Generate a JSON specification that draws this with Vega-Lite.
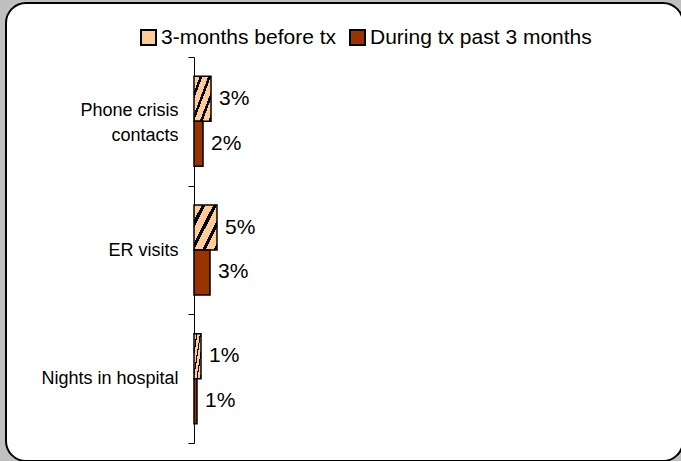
{
  "$schema": "https://vega.github.io/schema/vega-lite/v6.json",
  "width": 677,
  "height": 458,
  "autosize": {"type": "none"},
  "padding": {"left": 6, "top": 3, "right": 0, "bottom": 0},
  "background": "#c0c0c0",
  "config": {
    "view": {"stroke": "black", "strokeWidth": 2, "cornerRadius": 20, "fill": "white"},
    "font": "Liberation Sans"
  },
  "data": {
    "values": [
      {"category": "Phone crisis contacts", "series": "3-months before tx", "value": 0.034},
      {"category": "Phone crisis contacts", "series": "During tx past 3 months", "value": 0.018},
      {"category": "ER visits", "series": "3-months before tx", "value": 0.046},
      {"category": "ER visits", "series": "During tx past 3 months", "value": 0.032},
      {"category": "Nights in hospital", "series": "3-months before tx", "value": 0.014},
      {"category": "Nights in hospital", "series": "During tx past 3 months", "value": 0.006}
    ]
  },
  "encoding": {
    "y": {
      "field": "category",
      "type": "nominal",
      "sort": null,
      "scale": {"range": [54, 440], "paddingInner": 0, "paddingOuter": 0},
      "axis": {
        "title": null,
        "orient": "left",
        "offset": -188,
        "domainColor": "black",
        "domainWidth": 1,
        "tickColor": "black",
        "tickSize": 6,
        "tickBand": "extent",
        "labelFontSize": 18,
        "labelColor": "black",
        "labelPadding": 10,
        "labelAlign": "right",
        "labelLimit": 0,
        "labelLineHeight": 25,
        "labelOffset": {"condition": {"test": "datum.value == 'Phone crisis contacts'", "value": -11}, "value": 0},
        "labelExpr": "datum.label == 'Phone crisis contacts' ? ['Phone crisis', 'contacts\u00a0\u00a0\u00a0'] : datum.label"
      }
    },
    "yOffset": {
      "field": "series",
      "type": "nominal",
      "sort": null,
      "scale": {"paddingInner": 0, "paddingOuter": 0.43}
    },
    "x": {
      "field": "value",
      "type": "quantitative",
      "scale": {"domain": [-0.376, 0.978], "nice": false},
      "axis": null
    }
  },
  "layer": [
    {
      "mark": {"type": "bar", "stroke": "black", "strokeWidth": 1.5},
      "encoding": {
        "x2": {"datum": 0},
        "fill": {
          "field": "series",
          "type": "nominal",
          "sort": null,
          "scale": {"domain": ["3-months before tx", "During tx past 3 months"], "range": ["#FFCC99", "#993300"]},
          "condition": {
            "test": "datum.series == '3-months before tx'",
            "value": {
              "gradient": "linear",
              "x1": 0, "y1": 0, "x2": 1, "y2": 1,
              "stops": [
                {"offset": 0, "color": "#FFCC99"},
                {"offset": 0.17, "color": "#FFCC99"},
                {"offset": 0.17, "color": "#000000"},
                {"offset": 0.25, "color": "#000000"},
                {"offset": 0.25, "color": "#FFCC99"},
                {"offset": 0.42, "color": "#FFCC99"},
                {"offset": 0.42, "color": "#000000"},
                {"offset": 0.5, "color": "#000000"},
                {"offset": 0.5, "color": "#FFCC99"},
                {"offset": 0.67, "color": "#FFCC99"},
                {"offset": 0.67, "color": "#000000"},
                {"offset": 0.75, "color": "#000000"},
                {"offset": 0.75, "color": "#FFCC99"},
                {"offset": 0.92, "color": "#FFCC99"},
                {"offset": 0.92, "color": "#000000"},
                {"offset": 1, "color": "#000000"}
              ]
            }
          },
          "legend": {
            "title": null,
            "orient": "none",
            "legendX": 132,
            "legendY": 24,
            "direction": "horizontal",
            "symbolType": "square",
            "symbolSize": 225,
            "symbolStrokeColor": "black",
            "symbolStrokeWidth": 2,
            "symbolOpacity": 1,
            "labelFontSize": 21,
            "labelColor": "black",
            "labelOffset": 2,
            "columnPadding": 9,
            "labelLimit": 0,
            "encode": {
              "symbols": {
                "update": {
                  "fill": {"signal": "datum.value == '3-months before tx' ? {gradient: 'linear', x1: 0, y1: 0, x2: 1, y2: 1, stops: [{offset: 0, color: '#FFCC99'}, {offset: 0.3, color: '#FFCC99'}, {offset: 0.3, color: '#000000'}, {offset: 0.45, color: '#000000'}, {offset: 0.45, color: '#FFCC99'}, {offset: 0.7, color: '#FFCC99'}, {offset: 0.7, color: '#000000'}, {offset: 0.85, color: '#000000'}, {offset: 0.85, color: '#FFCC99'}, {offset: 1, color: '#FFCC99'}]} : '#993300'"},
                  "stroke": {"value": "black"},
                  "opacity": {"value": 1}
                }
              }
            }
          }
        }
      }
    },
    {
      "mark": {"type": "text", "align": "left", "baseline": "middle", "dx": 8, "fontSize": 21, "color": "black"},
      "encoding": {
        "text": {"field": "value", "type": "quantitative", "format": ".0%"}
      }
    }
  ]
}
